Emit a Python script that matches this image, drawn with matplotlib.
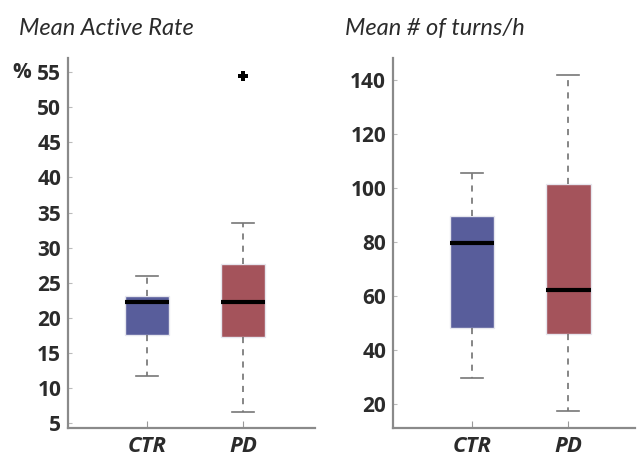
import matplotlib.pyplot as plt

# box statistics (whisker low, q1, median, q3, whisker high)
groups = ['CTR', 'PD']
colors = ['#585d9b', '#a4535b']

active_low = [11.7, 6.6]
active_q1 = [17.5, 17.3]
active_med = [22.3, 22.3]
active_q3 = [23.1, 27.6]
active_high = [26.0, 33.5]
active_fliers = [[], [54.5]]
active_ticks = [5, 10, 15, 20, 25, 30, 35, 40, 45, 50, 55]

turns_low = [29.5, 17.5]
turns_q1 = [48.2, 45.9]
turns_med = [79.6, 62.4]
turns_q3 = [89.6, 101.7]
turns_high = [105.6, 141.8]
turns_fliers = [[], []]
turns_ticks = [20, 40, 60, 80, 100, 120, 140]

plt.rcParams['font.family'] = ['Lato', 'DejaVu Sans']
text_col = '#2b2b2b'
spine_col = '#8a8a8a'
label_font = ['Open Sans', 'DejaVu Sans']


def make_stats(low, q1, med, q3, high, fliers):
    stats = []
    for i in range(len(groups)):
        stats.append(dict(label=groups[i], whislo=low[i], q1=q1[i], med=med[i],
                          q3=q3[i], whishi=high[i], fliers=fliers[i]))
    return stats


def draw_panel(ax, stats, ticks, ylim, xlim, title):
    bp = ax.bxp(stats, positions=[1, 2], widths=0.46, patch_artist=True,
                showfliers=True,
                medianprops=dict(color='black', linewidth=3, solid_capstyle='butt'),
                whiskerprops=dict(color='#666666', linewidth=1.1, linestyle=(0, (4, 4))),
                capprops=dict(color='#777777', linewidth=1.2),
                flierprops=dict(marker='P', markersize=7, markerfacecolor='black',
                                markeredgecolor='black', markeredgewidth=0))
    for patch, c in zip(bp['boxes'], colors):
        patch.set_facecolor(c)
        patch.set_edgecolor('#e6e6ee')
        patch.set_linewidth(1.0)
    ax.set_xlim(*xlim)
    ax.set_ylim(*ylim)
    ax.set_yticks(ticks, labels=[str(t) for t in ticks], fontsize=15,
                  fontweight='bold', color=text_col, family=label_font)
    ax.set_xticks([1, 2], labels=groups, fontsize=16, fontweight='bold',
                  fontstyle='italic', color=text_col, family=label_font)
    ax.tick_params(axis='y', direction='in', length=3, color='#bbbbbb', pad=5)
    ax.tick_params(axis='x', direction='in', length=5, color='#999999', pad=6)
    for s in ['top', 'right']:
        ax.spines[s].set_visible(False)
    for s in ['left', 'bottom']:
        ax.spines[s].set_color(spine_col)
        ax.spines[s].set_linewidth(1.6)
    ax.set_title(title, fontsize=17, fontstyle='italic', color=text_col,
                 loc='left', x=-0.2, pad=17)


fig = plt.figure(figsize=(6.37, 4.62), dpi=100)
ax1 = fig.add_axes([0.107, 0.074, 0.388, 0.80])
ax2 = fig.add_axes([0.617, 0.074, 0.380, 0.80])

draw_panel(ax1, make_stats(active_low, active_q1, active_med, active_q3, active_high, active_fliers),
           active_ticks, (4.3, 57.0), (0.175, 2.752), 'Mean Active Rate')
draw_panel(ax2, make_stats(turns_low, turns_q1, turns_med, turns_q3, turns_high, turns_fliers),
           turns_ticks, (11.1, 148.2), (0.185, 2.691), 'Mean # of turns/h')

ax1.text(-0.15, 55, '%', transform=ax1.get_yaxis_transform(), ha='right', va='center',
         fontsize=15, fontweight='bold', color=text_col, family=label_font)

fig.savefig('out.png', dpi=100)
